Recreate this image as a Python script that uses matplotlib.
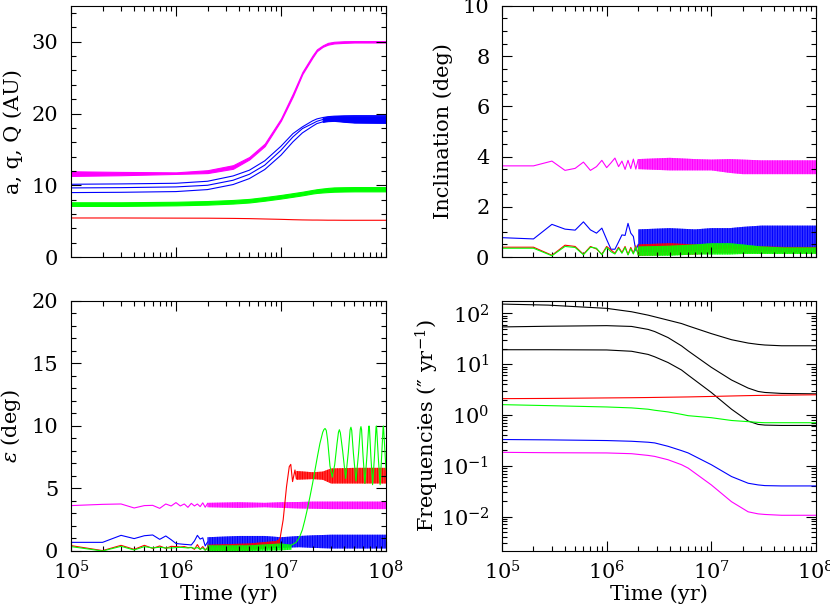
import numpy as np
import matplotlib
matplotlib.use('Agg')
import matplotlib.pyplot as plt
from matplotlib.ticker import MultipleLocator, LogLocator, NullFormatter

plt.rcParams['font.family'] = ['DejaVu Serif']
plt.rcParams['mathtext.fontset'] = 'dejavuserif'
plt.rcParams['font.size'] = 15
plt.rcParams['hatch.linewidth'] = 0.8

MAG = '#ff00ff'
BLU = '#0000ff'
GRN = '#00ff00'
RED = '#ff0000'
LW = 0.8

# ---- panel 1: a, q, Q (AU) ----
aq_t = [1e5, 3e5, 1e6, 2e6, 3.5e6, 5e6, 7e6, 1e7, 1.3e7, 1.6e7, 2e7, 2.2e7, 2.5e7, 2.8e7, 3.2e7, 4e7, 5e7, 1e8]
mag_lo = [11.3, 11.4, 11.58, 11.7, 12.3, 13.6, 15.45, 19.0, 22.4, 25.5, 27.8, 28.7, 29.3, 29.6, 29.77, 29.85, 29.9, 29.9]
mag_hi = [11.95, 11.86, 11.8, 12.1, 12.8, 13.95, 15.8, 19.3, 22.8, 25.8, 28.1, 28.95, 29.5, 29.85, 30.0, 30.08, 30.1, 30.1]
blu_Q = [10.14, 10.19, 10.28, 10.56, 11.3, 12.1, 13.4, 15.44, 17.2, 18.14, 18.98, 19.25, 19.44, 19.56, 19.63, 19.68, 19.7, 19.7]
blu_a = [9.63, 9.67, 9.77, 10.0, 10.7, 11.53, 12.8, 14.88, 16.74, 17.9, 18.6, 18.92, 19.16, 19.26, 19.3, 19.3, 19.3, 19.3]
blu_q = [8.98, 9.02, 9.12, 9.4, 10.1, 10.93, 12.19, 14.19, 16.05, 17.3, 18.23, 18.6, 18.84, 18.94, 18.98, 18.85, 18.74, 18.7]
grn_lo = [7.12, 7.12, 7.2, 7.3, 7.45, 7.6, 7.85, 8.15, 8.4, 8.6, 8.85, 8.93, 9.0, 9.05, 9.1, 9.13, 9.15, 9.15]
grn_hi = [7.63, 7.63, 7.7, 7.8, 7.95, 8.1, 8.35, 8.65, 8.9, 9.1, 9.35, 9.45, 9.55, 9.63, 9.7, 9.73, 9.75, 9.75]
red_a = [5.44, 5.44, 5.42, 5.41, 5.38, 5.35, 5.3, 5.25, 5.2, 5.17, 5.15, 5.15, 5.14, 5.13, 5.13, 5.12, 5.12, 5.12]

# ---- sparse early samples (every 1e5 yr) ----
t_early = [1e5, 2e5, 3e5, 4e5, 5e5, 6e5, 7e5, 8e5, 9e5, 1e6,
           1.1e6, 1.2e6, 1.3e6, 1.4e6, 1.5e6, 1.6e6, 1.7e6, 1.8e6, 1.9e6, 2e6]

# ---- panel 2: inclination ----
inc_mag = [3.63, 3.63, 3.82, 3.45, 3.53, 3.78, 3.45, 3.60, 3.85, 3.56,
           3.75, 3.94, 3.60, 3.82, 3.49, 3.85, 3.52, 3.90, 3.50, 3.88]
inc_blu = [0.77, 0.72, 1.30, 1.11, 1.07, 1.40, 1.08, 0.95, 1.15, 0.70,
           0.31, 0.31, 0.60, 0.88, 0.86, 1.34, 0.95, 0.82, 0.25, 0.50]
inc_red = [0.39, 0.39, 0.07, 0.47, 0.42, 0.11, 0.42, 0.32, 0.11, 0.42,
           0.28, 0.15, 0.39, 0.18, 0.42, 0.10, 0.38, 0.15, 0.45, 0.10]
inc_grn = [0.35, 0.35, 0.05, 0.42, 0.38, 0.09, 0.39, 0.35, 0.09, 0.38,
           0.21, 0.12, 0.35, 0.15, 0.38, 0.08, 0.33, 0.12, 0.40, 0.08]

band_t = [2e6, 4e6, 7e6, 1e7, 1.5e7, 2e7, 3e7, 5e7, 1e8]
inc_mag_lo = [3.5, 3.45, 3.45, 3.45, 3.35, 3.3, 3.3, 3.3, 3.3]
inc_mag_hi = [3.9, 3.95, 3.9, 3.88, 3.9, 3.88, 3.85, 3.85, 3.85]
inc_blu_lo = [0.2, 0.2, 0.25, 0.3, 0.35, 0.3, 0.25, 0.2, 0.2]
inc_blu_hi = [1.1, 1.15, 1.1, 1.15, 1.15, 1.2, 1.25, 1.25, 1.25]
inc_red_lo = [0.05, 0.08, 0.1, 0.15, 0.15, 0.15, 0.15, 0.15, 0.15]
inc_red_hi = [0.5, 0.55, 0.5, 0.5, 0.48, 0.45, 0.42, 0.4, 0.4]
inc_grn_lo = [0.05, 0.05, 0.1, 0.1, 0.1, 0.12, 0.12, 0.12, 0.12]
inc_grn_hi = [0.42, 0.45, 0.5, 0.55, 0.55, 0.5, 0.42, 0.38, 0.38]

# ---- panel 3: obliquity ----
eps_mag = [3.63, 3.73, 3.76, 3.44, 3.63, 3.65, 3.41, 3.76, 3.60, 3.87,
           3.60, 3.76, 3.49, 3.81, 3.60, 3.76, 3.55, 3.85, 3.50, 3.80]
eps_blu = [0.69, 0.69, 1.25, 0.99, 1.22, 1.28, 0.93, 1.20, 0.90, 0.60,
           0.56, 0.53, 0.51, 0.48, 0.80, 1.25, 0.95, 1.05, 0.40, 0.72]
eps_red = [0.43, 0.03, 0.45, 0.13, 0.45, 0.21, 0.40, 0.21, 0.37, 0.35,
           0.32, 0.35, 0.27, 0.29, 0.13, 0.51, 0.13, 0.35, 0.08, 0.29]
eps_grn = [0.35, 0.00, 0.37, 0.08, 0.35, 0.24, 0.30, 0.24, 0.24, 0.27,
           0.29, 0.27, 0.24, 0.27, 0.21, 0.27, 0.13, 0.24, 0.05, 0.24]

eps_mag_lo = [3.5, 3.45, 3.5, 3.45, 3.4, 3.38, 3.35, 3.35, 3.35]
eps_mag_hi = [3.85, 3.9, 3.85, 3.9, 3.92, 3.95, 3.95, 3.95, 3.95]
eps_blu_lo = [0.3, 0.2, 0.2, 0.25, 0.3, 0.25, 0.2, 0.2, 0.2]
eps_blu_hi = [1.1, 1.2, 1.2, 1.1, 1.2, 1.25, 1.3, 1.3, 1.3]

red_pre_t = [2e6, 5e6, 9e6, 9.8e6]
red_pre_lo = [0.05, 0.05, 0.3, 0.5]
red_pre_hi = [0.5, 0.6, 0.8, 1.0]
red_jump_t = [9.8e6, 1.05e7, 1.13e7, 1.2e7, 1.24e7, 1.29e7, 1.36e7, 1.4e7]
red_jump = [1.0, 2.5, 5.15, 6.75, 6.93, 5.55, 6.48, 5.8]
red_post_t = [1.4e7, 2e7, 2.5e7, 3e7, 5e7, 1e8]
red_post_lo = [5.7, 5.75, 5.7, 5.4, 5.4, 5.4]
red_post_hi = [6.4, 6.3, 6.35, 6.6, 6.65, 6.65]

grn_pre_t = [2e6, 5e6, 1e7, 1.26e7]
grn_pre_lo = [0.0, 0.0, 0.05, 0.1]
grn_pre_hi = [0.45, 0.45, 0.6, 0.5]
grn_osc_t = [1.26e7, 1.4e7, 1.51e7, 1.6e7, 1.69e7, 1.79e7, 1.89e7, 2.0e7, 2.11e7,
             2.23e7, 2.35e7, 2.5e7, 2.57e7, 2.63e7, 2.7e7, 2.78e7, 2.93e7, 3.08e7, 3.25e7,
             3.42e7, 3.53e7, 3.6e7, 3.68e7, 3.87e7, 4.13e7, 4.38e7, 4.56e7, 4.64e7, 4.72e7,
             4.9e7, 5.18e7, 5.48e7, 5.7e7, 5.78e7, 5.86e7, 6.04e7, 6.3e7, 6.6e7,
             6.83e7, 6.9e7, 6.97e7, 7.18e7, 7.46e7, 7.78e7, 8.03e7, 8.1e7, 8.17e7,
             8.45e7, 8.8e7, 9.1e7, 9.38e7, 9.45e7, 9.52e7, 1e8]
grn_osc = [0.47, 0.7, 1.15, 1.7, 2.48, 3.4, 4.35, 5.4, 6.48,
           7.6, 8.6, 9.5, 9.72, 9.8, 9.65, 8.9, 6.8, 5.9, 6.9,
           8.6, 9.5, 9.7, 9.45, 8.0, 5.8, 7.9, 9.7, 9.9, 9.65,
           7.8, 5.6, 7.8, 9.75, 9.95, 9.7, 7.7, 5.4, 7.7,
           9.8, 10.0, 9.75, 7.6, 5.3, 7.6, 9.8, 10.0, 9.75,
           7.5, 5.3, 7.6, 9.8, 10.0, 9.7, 6.5]

# ---- panel 4: frequencies ----
freq_t = [1e5, 2.75e5, 1e6, 1.73e6, 2.49e6, 2.88e6, 3.86e6, 5.19e6, 6.01e6,
          1e7, 1.56e7, 2.25e7, 2.8e7, 3.25e7, 4.69e7, 1e8]
f_blk1 = [153, 146, 126, 108, 92.6, 85.9, 73.8, 63.3, 56.9, 40.1, 30.4, 26.1, 24.6, 23.9, 23.1, 23.1]
f_blk2 = [54.3, 56, 57.5, 55.5, 48.5, 44, 33.5, 23.0, 18.3, 8.7, 4.89, 3.39, 2.91, 2.78, 2.66, 2.61]
f_blk3 = [19.3, 19.3, 19.1, 18.0, 15.6, 14.0, 10.8, 7.7, 6.1, 2.78, 1.30, 0.76, 0.653, 0.633, 0.623, 0.623]
f_red = [2.10, 2.12, 2.17, 2.19, 2.21, 2.22, 2.24, 2.26, 2.27, 2.32, 2.37, 2.41, 2.43, 2.44, 2.46, 2.50]
f_grn = [1.60, 1.53, 1.44, 1.38, 1.30, 1.24, 1.15, 1.03, 0.97, 0.885, 0.78, 0.74, 0.715, 0.705, 0.705, 0.705]
f_blu = [0.329, 0.324, 0.314, 0.304, 0.291, 0.282, 0.242, 0.199, 0.179, 0.105, 0.0614, 0.0453, 0.042, 0.0407, 0.0401, 0.0401]
f_mag = [0.184, 0.181, 0.179, 0.173, 0.160, 0.153, 0.1315, 0.105, 0.090, 0.042, 0.0196, 0.0124, 0.0113, 0.0110, 0.0106, 0.0106]


def style(ax, xlabels):
    ax.set_xscale('log')
    ax.set_xlim(1e5, 1e8)
    ax.xaxis.set_major_locator(LogLocator(base=10))
    ax.xaxis.set_minor_locator(LogLocator(base=10, subs=np.arange(2, 10)))
    ax.xaxis.set_minor_formatter(NullFormatter())
    ax.tick_params(which='both', direction='in', top=True, right=True, width=0.8)
    ax.tick_params(which='major', length=7)
    ax.tick_params(which='minor', length=3.6)
    ax.tick_params(axis='y', pad=9)
    ax.tick_params(axis='x', pad=7)
    for s in ax.spines.values():
        s.set_linewidth(0.8)
    if xlabels:
        ax.set_xlabel('Time (yr)', labelpad=0)
    else:
        ax.tick_params(axis='x', labelbottom=False)


def band(ax, t, lo, hi, c, dense=False):
    # dense oscillations: drawn as a band between the read envelopes
    if dense:
        ax.fill_between(t, lo, hi, color=c, lw=LW)
    else:
        ax.fill_between(t, lo, hi, facecolor=matplotlib.colors.to_rgba(c, 0.65),
                        edgecolor=c, hatch='||||||||||', lw=0)


fig = plt.figure(figsize=(8.3, 6.05), dpi=100)
ax1 = fig.add_axes([0.0855, 0.5752, 0.3795, 0.415])
ax2 = fig.add_axes([0.6048, 0.5752, 0.3783, 0.415])
ax3 = fig.add_axes([0.0855, 0.0893, 0.3795, 0.4132])
ax4 = fig.add_axes([0.6048, 0.0893, 0.3783, 0.4132])

# panel 1
style(ax1, False)
band(ax1, aq_t, mag_lo, mag_hi, MAG, dense=True)
for q in (blu_Q, blu_a, blu_q):
    ax1.plot(aq_t, q, color=BLU, lw=LW)
band(ax1, aq_t[-6:], blu_q[-6:], blu_Q[-6:], BLU, dense=True)
band(ax1, aq_t, grn_lo, grn_hi, GRN, dense=True)
ax1.plot(aq_t, red_a, color=RED, lw=LW)
ax1.set_ylim(0, 35)
ax1.yaxis.set_major_locator(MultipleLocator(10))
ax1.yaxis.set_minor_locator(MultipleLocator(2))
ax1.set_ylabel('a, q, Q (AU)')
ax1.yaxis.set_label_coords(-0.152, 0.5)

# panel 2
style(ax2, False)
ax2.plot(t_early, inc_mag, color=MAG, lw=LW)
band(ax2, band_t, inc_mag_lo, inc_mag_hi, MAG)
ax2.plot(t_early, inc_blu, color=BLU, lw=LW)
band(ax2, band_t, inc_blu_lo, inc_blu_hi, BLU)
ax2.plot(t_early, inc_red, color=RED, lw=LW)
band(ax2, band_t, inc_red_lo, inc_red_hi, RED)
ax2.plot(t_early, inc_grn, color=GRN, lw=LW)
band(ax2, band_t, inc_grn_lo, inc_grn_hi, GRN)
ax2.set_ylim(0, 10)
ax2.yaxis.set_major_locator(MultipleLocator(2))
ax2.yaxis.set_minor_locator(MultipleLocator(0.5))
ax2.set_ylabel('Inclination (deg)')
ax2.yaxis.set_label_coords(-0.156, 0.5)

# panel 3
style(ax3, True)
ax3.plot(t_early, eps_mag, color=MAG, lw=LW)
band(ax3, band_t, eps_mag_lo, eps_mag_hi, MAG)
ax3.plot(t_early, eps_blu, color=BLU, lw=LW)
band(ax3, band_t, eps_blu_lo, eps_blu_hi, BLU)
ax3.plot(t_early, eps_red, color=RED, lw=LW)
band(ax3, red_pre_t, red_pre_lo, red_pre_hi, RED)
ax3.plot(red_jump_t, red_jump, color=RED, lw=LW)
band(ax3, red_post_t, red_post_lo, red_post_hi, RED)
ax3.plot(t_early, eps_grn, color=GRN, lw=LW)
band(ax3, grn_pre_t, grn_pre_lo, grn_pre_hi, GRN)
ax3.plot(grn_osc_t, grn_osc, color=GRN, lw=LW)
ax3.set_ylim(0, 20)
ax3.yaxis.set_major_locator(MultipleLocator(5))
ax3.yaxis.set_minor_locator(MultipleLocator(1))
ax3.set_ylabel(r'$\varepsilon$ (deg)')
ax3.yaxis.set_label_coords(-0.153, 0.5)

# panel 4
style(ax4, True)
for f in (f_blk1, f_blk2, f_blk3):
    ax4.plot(freq_t, f, color='black', lw=LW)
ax4.plot(freq_t, f_red, color=RED, lw=LW)
ax4.plot(freq_t, f_grn, color=GRN, lw=LW)
ax4.plot(freq_t, f_blu, color=BLU, lw=LW)
ax4.plot(freq_t, f_mag, color=MAG, lw=LW)
ax4.set_yscale('log')
ax4.set_ylim(2.1e-3, 176)
ax4.yaxis.set_major_locator(LogLocator(base=10))
ax4.yaxis.set_minor_locator(LogLocator(base=10, subs=np.arange(2, 10)))
ax4.yaxis.set_minor_formatter(NullFormatter())
ax4.set_ylabel('Frequencies (\u2033 yr$^{-1}$)')
ax4.yaxis.set_label_coords(-0.193, 0.5)

fig.savefig('out.png', dpi=100)
